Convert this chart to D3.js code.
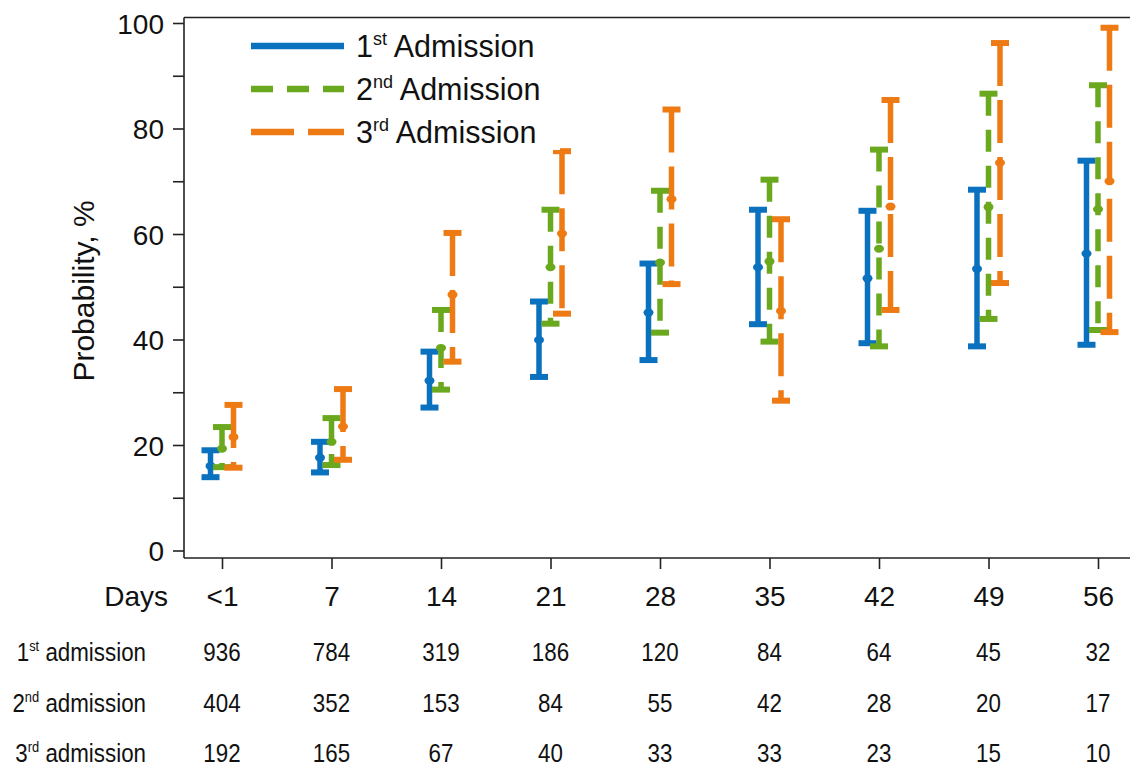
<!DOCTYPE html>
<html><head><meta charset="utf-8">
<script src="https://cdn.jsdelivr.net/npm/d3@7"></script>
<style>
html,body{margin:0;padding:0;background:#fff;}
svg{display:block;font-family:"Liberation Sans",Arial,sans-serif;}
</style></head>
<body>
<svg id="chart" width="1130" height="770"></svg>
<script>
const categories = ["<1","7","14","21","28","35","42","49","56"];
const seriesNames = ["1st Admission","2nd Admission","3rd Admission"];
// lower bound, estimate, upper bound (%)
const first_low  = [13.9,14.8,27.1,32.9,36.1,42.9,39.3,38.7,39.0];
const first_est  = [16.0,17.6,32.2,39.9,45.1,53.7,51.6,53.4,56.3];
const first_high = [19.0,20.6,37.7,47.2,54.4,64.6,64.4,68.4,73.9];
const second_low  = [15.8,16.2,30.5,43.0,41.3,39.6,38.7,43.9,41.8];
const second_est  = [19.3,20.6,38.4,53.7,54.6,54.8,57.2,65.1,64.7];
const second_high = [23.4,25.1,45.6,64.6,68.2,70.3,76.0,86.6,88.2];
const third_low  = [15.7,17.2,35.8,44.9,50.5,28.4,45.6,50.7,41.4];
const third_est  = [21.5,23.5,48.5,60.1,66.6,45.4,65.2,73.5,70.0];
const third_high = [27.6,30.6,60.2,75.7,83.6,62.8,85.4,96.2,99.1];
const yTicks = [0,20,40,60,80,100];
const yMinorTicks = [10,30,50,70,90];
const tableLabels = [["1","st"," admission"],["2","nd"," admission"],["3","rd"," admission"]];
const n_first  = [936,784,319,186,120,84,64,45,32];
const n_second = [404,352,153,84,55,42,28,20,17];
const n_third  = [192,165,67,40,33,33,23,15,10];

const colors = ["#0A71BE","#6AA81E","#EE7A14"];
const dashes = [null,"22,14","43,14"];
const offsets = [-11.5,0,11.5];
const series = [
  {low:first_low, est:first_est, high:first_high},
  {low:second_low, est:second_est, high:second_high},
  {low:third_low, est:third_est, high:third_high}
];

const svg = d3.select("#chart");
const axisX = 184, topY = 17.5, bottomY = 558, rightX = 1130;
const x = d3.scalePoint().domain(categories).range([222,1098]);
const y = d3.scaleLinear().domain([0,100]).range([550.5,23]);
const axisColor = "#222";

// frame lines
svg.append("line").attr("x1",axisX).attr("x2",rightX).attr("y1",topY).attr("y2",topY)
  .attr("stroke",axisColor).attr("stroke-width",1.6);

// y axis
const yAxis = d3.axisLeft(y).tickValues(yTicks.concat(yMinorTicks)).tickSize(11)
  .tickFormat(d => yTicks.includes(d) ? d : "");
const gy = svg.append("g").attr("transform",`translate(${axisX},0)`).call(yAxis);
gy.select(".domain").attr("d",`M-0,${topY}V${bottomY}`).attr("stroke",axisColor).attr("stroke-width",1.6);
gy.selectAll(".tick line").attr("stroke",axisColor).attr("stroke-width",1.6);
gy.selectAll(".tick text").attr("font-size",28).attr("fill","#111")
  .attr("font-family","'Liberation Sans',Arial,sans-serif").attr("x",-20).attr("dy","0.36em");

// x axis
const xAxis = d3.axisBottom(x).tickSize(11).tickPadding(14);
const gx = svg.append("g").attr("transform",`translate(0,${bottomY})`).call(xAxis);
gx.select(".domain").attr("d",`M${axisX},0H${rightX}`).attr("stroke",axisColor).attr("stroke-width",1.6);
gx.selectAll(".tick line").attr("stroke",axisColor).attr("stroke-width",1.6);
gx.selectAll(".tick text").attr("font-size",28).attr("fill","#111")
  .attr("font-family","'Liberation Sans',Arial,sans-serif").attr("y",null).attr("dy",null)
  .attr("transform","translate(0,48)");

svg.append("text").attr("x",168).attr("y",606).attr("text-anchor","end")
  .attr("font-size",28).attr("fill","#111").text("Days");

// y label
svg.append("text").attr("transform","translate(94,291) rotate(-90)").attr("text-anchor","middle")
  .attr("font-size",30).attr("fill","#111").text("Probability, %");

// error bars
series.forEach((s,si) => {
  const g = svg.append("g");
  categories.forEach((c,i) => {
    const cx = x(c) + offsets[si];
    g.append("line").attr("x1",cx).attr("x2",cx).attr("y1",y(s.high[i])).attr("y2",y(s.low[i]))
      .attr("stroke",colors[si]).attr("stroke-width",5.5)
      .attr("stroke-dasharray",dashes[si]);
    [s.high[i], s.low[i]].forEach(v => {
      g.append("line").attr("x1",cx-9).attr("x2",cx+9).attr("y1",y(v)).attr("y2",y(v))
        .attr("stroke",colors[si]).attr("stroke-width",6);
    });
    g.append("ellipse").attr("cx",cx).attr("cy",y(s.est[i])).attr("rx",5).attr("ry",4)
      .attr("fill",colors[si]);
  });
});

// legend
const legY = [46,89,132];
const sup = [["1","st"],["2","nd"],["3","rd"]];
seriesNames.forEach((name,si) => {
  svg.append("rect").attr("x",240).attr("y",legY[si]-22).attr("width",320).attr("height",40).attr("fill","#fff");
  svg.append("line").attr("x1",251).attr("x2",344).attr("y1",legY[si]).attr("y2",legY[si])
    .attr("stroke",colors[si]).attr("stroke-width",6.5).attr("stroke-dasharray",dashes[si]);
  const t = svg.append("text").attr("x",356).attr("y",legY[si]+11).attr("font-size",30.5).attr("fill","#111");
  t.append("tspan").text(sup[si][0]);
  t.append("tspan").attr("font-size",18).attr("dy",-12).text(sup[si][1]);
  t.append("tspan").attr("dy",12).text(" " + name.split(" ")[1]);
});

// table
const rows = [n_first,n_second,n_third];
const rowY = [661,712,762];
const sx = 0.86;
rows.forEach((r,ri) => {
  const lab = svg.append("text").attr("transform",`translate(146,${rowY[ri]}) scale(${sx},1)`)
    .attr("text-anchor","end").attr("font-size",26).attr("fill","#111");
  lab.append("tspan").text(tableLabels[ri][0]);
  lab.append("tspan").attr("font-size",15).attr("dy",-10).text(tableLabels[ri][1]);
  lab.append("tspan").attr("dy",10).text(tableLabels[ri][2]);
  r.forEach((v,i) => {
    svg.append("text").attr("transform",`translate(${x(categories[i])},${rowY[ri]}) scale(${sx},1)`)
      .attr("text-anchor","middle").attr("font-size",26).attr("fill","#111").text(v);
  });
});
</script>
</body></html>
